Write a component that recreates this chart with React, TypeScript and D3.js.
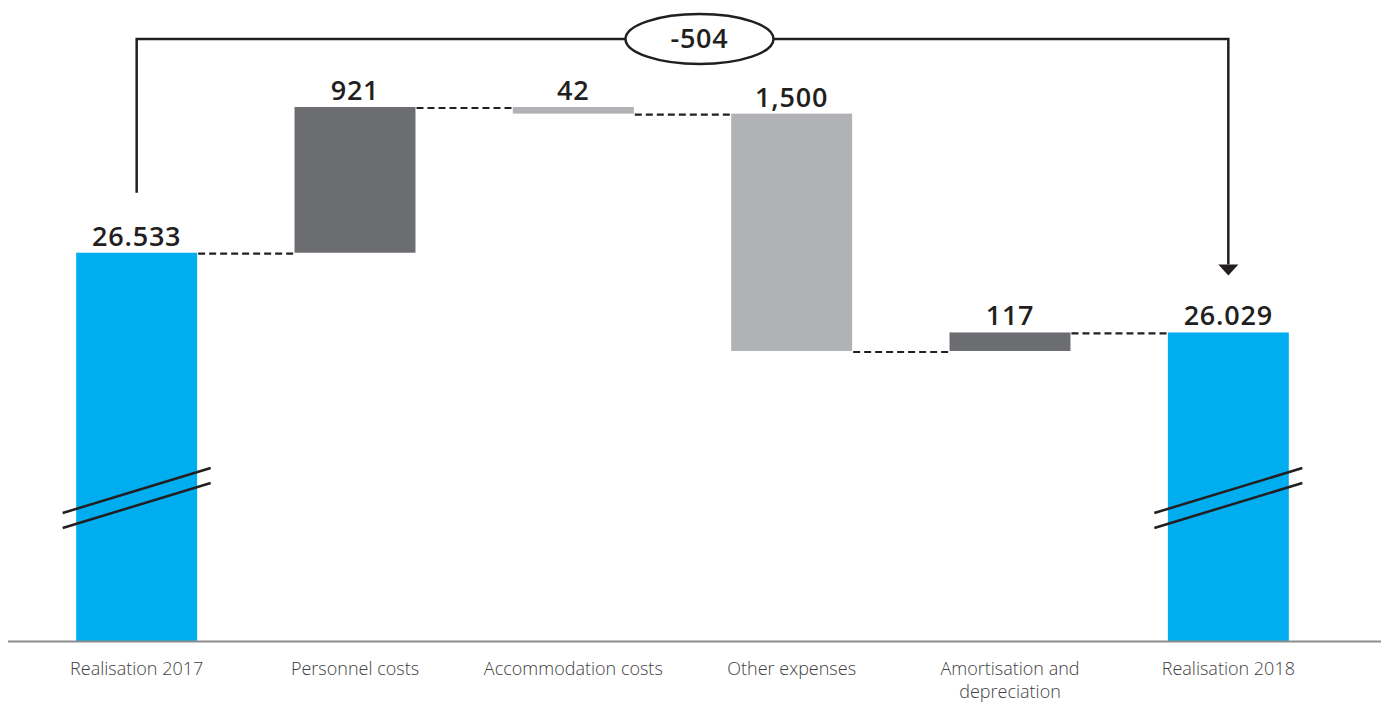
import React from "react";
import * as d3 from "d3";

const categories = [
  "Realisation 2017",
  "Personnel costs",
  "Accommodation costs",
  "Other expenses",
  "Amortisation and depreciation",
  "Realisation 2018",
];
const values = [26533, 921, -42, -1500, 117, 26029];
const isTotal = [true, false, false, false, false, true];
const valueLabels = ["26.533", "921", "42", "1,500", "117", "26.029"];
const categoryLines = [
  ["Realisation 2017"],
  ["Personnel costs"],
  ["Accommodation costs"],
  ["Other expenses"],
  ["Amortisation and", "depreciation"],
  ["Realisation 2018"],
];
const differenceLabel = "-504";
const axisStart = 24079;
const axisTop = 27454;

const W = 1381;
const H = 702;
const BLUE = "#00adef";
const DARK = "#6c6d71";
const LIGHT = "#b1b2b5";
const INK = "#231f20";
const fills = [BLUE, DARK, LIGHT, LIGHT, DARK, BLUE];

export default function App() {
  const baseY = 641;
  const x = d3
    .scaleBand<string>()
    .domain(categories)
    .range([27.5, 1337.5])
    .paddingInner(0.446)
    .paddingOuter(0.223);
  const y = d3.scaleLinear().domain([axisStart, axisTop]).range([baseY, 107]);

  let running = 0;
  const bars = categories.map((c, i) => {
    let start: number, end: number;
    if (isTotal[i]) {
      start = axisStart;
      end = values[i];
    } else {
      start = running;
      end = running + values[i];
    }
    running = end;
    return { c, i, start, end };
  });

  const bw = x.bandwidth();
  const font = "'Open Sans', sans-serif";

  const first = bars[0];
  const last = bars[bars.length - 1];
  const fx = (x(first.c) as number) + bw / 2;
  const lx = (x(last.c) as number) + bw / 2;
  const bracketY = 39;
  const midX = (fx + lx) / 2 + 17;

  return (
    <svg width={W} height={H} style={{ position: "absolute", left: 0, top: 0 }}>
      <rect width={W} height={H} fill="#fff" />
      {bars.slice(0, -1).map((b, i) => {
        const nb = bars[i + 1];
        const x1 = (x(b.c) as number) + bw;
        const x2 = x(nb.c) as number;
        const yy = y(b.end);
        return (
          <line
            key={"c" + i}
            x1={x1 + 1}
            x2={x2}
            y1={yy + 1}
            y2={yy + 1}
            stroke={INK}
            strokeWidth={2.2}
            strokeDasharray="7,4"
          />
        );
      })}
      {bars.map((b) => {
        const top = y(Math.max(b.start, b.end));
        const bottom = y(Math.min(b.start, b.end));
        return (
          <rect
            key={b.c}
            x={x(b.c)}
            y={top}
            width={bw}
            height={bottom - top}
            fill={fills[b.i]}
          />
        );
      })}
      <line x1={8} x2={1381} y1={baseY + 0.5} y2={baseY + 0.5} stroke="#8c8c8c" strokeWidth={2} />
      {bars
        .filter((b) => isTotal[b.i])
        .map((b) => {
          const cx = (x(b.c) as number) + bw / 2;
          return (
            <g key={"br" + b.i} stroke={INK} strokeWidth={2.5}>
              <line x1={cx - 74} y1={baseY - 128} x2={cx + 74} y2={baseY - 173} />
              <line x1={cx - 74} y1={baseY - 113} x2={cx + 74} y2={baseY - 158} />
            </g>
          );
        })}
      {bars.map((b) => {
        const top = y(Math.max(b.start, b.end));
        return (
          <text
            key={"v" + b.i}
            x={(x(b.c) as number) + bw / 2}
            y={top - 7}
            textAnchor="middle"
            fontFamily={font}
            fontWeight={600}
            fontSize={27}
            letterSpacing={0.8}
            fill={INK}
          >
            {valueLabels[b.i]}
          </text>
        );
      })}
      {bars.map((b) => (
        <text
          key={"l" + b.i}
          x={(x(b.c) as number) + bw / 2}
          y={675}
          textAnchor="middle"
          fontFamily={font}
          fontWeight={300}
          fontSize={18}
          fill="#414042"
        >
          {categoryLines[b.i].map((ln, k) => (
            <tspan key={k} x={(x(b.c) as number) + bw / 2} dy={k === 0 ? 0 : 23}>
              {ln}
            </tspan>
          ))}
        </text>
      ))}
      <g stroke={INK} strokeWidth={2.5} fill="none">
        <polyline
          points={`${fx},${y(first.end) - 60} ${fx},${bracketY} ${lx},${bracketY} ${lx},${y(last.end) - 68}`}
        />
      </g>
      <path
        d={`M${lx - 10},${y(last.end) - 68} L${lx + 10},${y(last.end) - 68} L${lx},${y(last.end) - 57} Z`}
        fill={INK}
      />
      <ellipse cx={midX} cy={bracketY} rx={74} ry={25} fill="#fff" stroke={INK} strokeWidth={2.5} />
      <text
        x={midX}
        y={bracketY + 9}
        textAnchor="middle"
        fontFamily={font}
        fontWeight={600}
        fontSize={27}
        letterSpacing={0.8}
        fill={INK}
      >
        {differenceLabel}
      </text>
    </svg>
  );
}
